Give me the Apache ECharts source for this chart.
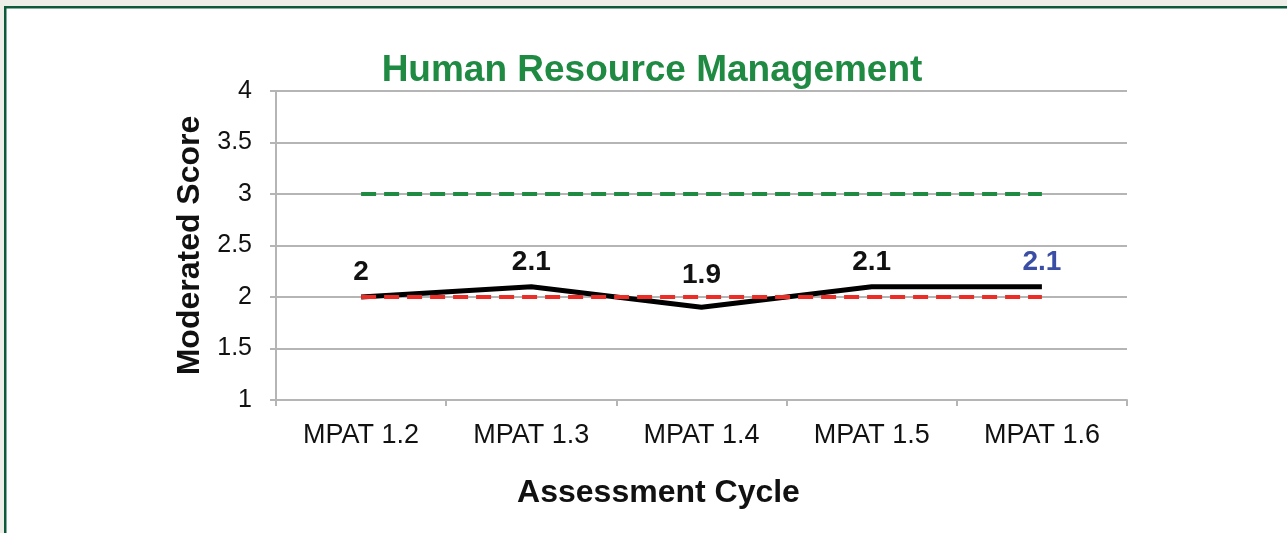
<!DOCTYPE html>
<html>
<head>
<meta charset="utf-8">
<script src="https://cdn.jsdelivr.net/npm/echarts@6/dist/echarts.min.js"></script>
<style>
html,body{margin:0;padding:0;background:#fff;}
#c{width:1287px;height:533px;}
</style>
</head>
<body>
<div id="c"></div>
<script>
const categories = ['MPAT 1.2', 'MPAT 1.3', 'MPAT 1.4', 'MPAT 1.5', 'MPAT 1.6'];
const scores = [2, 2.1, 1.9, 2.1, 2.1];
const redLevel = [2, 2, 2, 2, 2];
const greenLevel = [3, 3, 3, 3, 3];
const yTicks = [1, 1.5, 2, 2.5, 3, 3.5, 4];

const chart = echarts.init(document.getElementById('c'), null, {renderer: 'canvas'});
const font = 'Liberation Sans, Arial, sans-serif';

const scoreData = scores.map((v, i) => {
  const d = {value: v};
  if (i === scores.length - 1) d.label = {color: '#3b4ea6'};
  if (v < 2) d.label = {distance: 18};
  return d;
});

chart.setOption({
  backgroundColor: '#ffffff',
  animation: false,
  title: {
    text: 'Human Resource Management',
    left: 647, top: 47, textAlign: 'center',
    textStyle: {color: '#1e8a42', fontSize: 37, fontWeight: 'bold', fontFamily: font}
  },
  grid: {left: 276, right: 160, top: 91, bottom: 133},
  xAxis: {
    type: 'category',
    data: categories,
    boundaryGap: true,
    name: 'Assessment Cycle',
    nameLocation: 'middle',
    nameGap: 77,
    nameTextStyle: {color: '#111', fontSize: 32, fontWeight: 'bold', fontFamily: font,
      padding: [0, 86, 0, 0]},
    axisLine: {lineStyle: {color: '#b5b5b5', width: 2}},
    axisTick: {show: true, length: 6, lineStyle: {color: '#b5b5b5', width: 2}},
    axisLabel: {color: '#111', fontSize: 27, fontFamily: font, margin: 22},
    splitLine: {show: false}
  },
  yAxis: {
    type: 'value',
    min: 1, max: 4, interval: 0.5,
    name: 'Moderated Score',
    nameLocation: 'middle',
    nameGap: 68,
    nameRotate: 90,
    nameTextStyle: {color: '#111', fontSize: 32, fontWeight: 'bold', fontFamily: font},
    axisLine: {show: true, lineStyle: {color: '#b5b5b5', width: 2}},
    axisTick: {show: true, length: 6, inside: false, lineStyle: {color: '#b5b5b5', width: 2}},
    axisLabel: {color: '#111', fontSize: 25, fontFamily: font, margin: 24,
      formatter: v => yTicks.includes(v) ? String(v) : ''},
    splitLine: {show: true, lineStyle: {color: '#b5b5b5', width: 2}}
  },
  series: [
    {
      name: 'Score', type: 'line', data: scoreData,
      symbol: 'circle', symbolSize: 1, showSymbol: true, z: 3,
      itemStyle: {color: 'rgba(0,0,0,0)'},
      lineStyle: {color: '#000', width: 5},
      label: {show: true, position: 'top', distance: 10, color: '#111',
        fontSize: 28, fontWeight: 'bold', fontFamily: font}
    },
    {
      name: 'Red', type: 'line', data: redLevel, symbol: 'none', z: 4,
      lineStyle: {color: '#ee2b24', width: 4, type: [15, 8]}
    },
    {
      name: 'Green', type: 'line', data: greenLevel, symbol: 'none', z: 4,
      lineStyle: {color: '#1e8a42', width: 4, type: [15, 8]}
    }
  ],
  graphic: [
    {type: 'rect', shape: {x: 0, y: 0, width: 1287, height: 6}, style: {fill: '#eeeee9'}, z: 10},
    {type: 'rect', shape: {x: 0, y: 0, width: 4, height: 533}, style: {fill: '#eeeee9'}, z: 10},
    {type: 'rect', shape: {x: 4, y: 6, width: 1283, height: 2.5}, style: {fill: '#0d5a3a'}, z: 11},
    {type: 'rect', shape: {x: 4, y: 6, width: 2.5, height: 527}, style: {fill: '#0d5a3a'}, z: 11}
  ]
});
</script>
</body>
</html>
